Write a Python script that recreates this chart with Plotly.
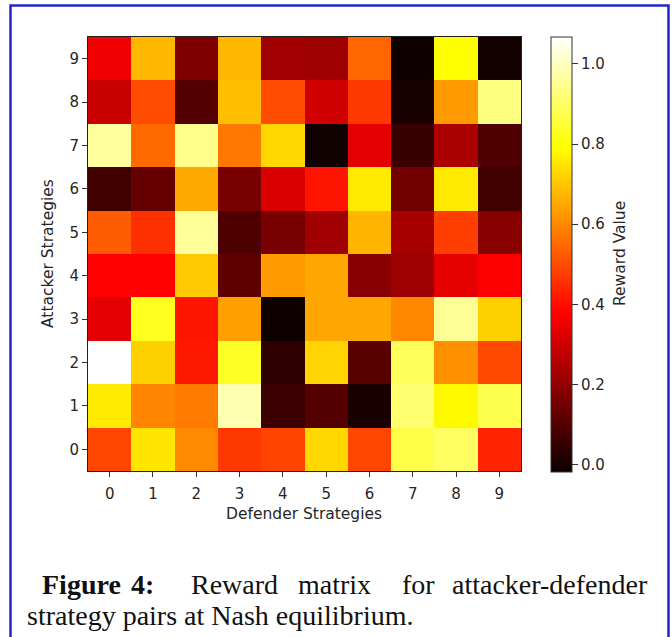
import plotly.graph_objects as go

W, H = 672, 637

# Strategy indices on both axes
defender = list(range(10))
attacker = list(range(10))
tick_labels = [str(i) for i in range(10)]

# Reward matrix: one row per attacker strategy (0 at bottom), columns are defender strategies
reward_a0 = [0.492, 0.751, 0.602, 0.469, 0.489, 0.728, 0.492, 0.870, 0.896, 0.437]
reward_a1 = [0.755, 0.592, 0.579, 0.981, 0.063, 0.104, 0.009, 0.911, 0.781, 0.878]
reward_a2 = [1.067, 0.715, 0.417, 0.835, 0.040, 0.722, 0.110, 0.889, 0.611, 0.495]
reward_a3 = [0.334, 0.826, 0.410, 0.637, -0.010, 0.647, 0.647, 0.598, 0.953, 0.715]
reward_a4 = [0.380, 0.380, 0.703, 0.120, 0.627, 0.647, 0.185, 0.218, 0.338, 0.373]
reward_a5 = [0.525, 0.456, 0.957, 0.092, 0.162, 0.224, 0.670, 0.237, 0.479, 0.185]
reward_a6 = [0.070, 0.127, 0.654, 0.162, 0.315, 0.410, 0.755, 0.152, 0.755, 0.070]
reward_a7 = [0.964, 0.549, 0.940, 0.572, 0.728, -0.006, 0.334, 0.056, 0.240, 0.095]
reward_a8 = [0.289, 0.502, 0.102, 0.686, 0.502, 0.302, 0.469, 0.007, 0.627, 0.929]
reward_a9 = [0.354, 0.675, 0.172, 0.675, 0.224, 0.218, 0.543, -0.010, 0.790, 0.000]

rewards = [reward_a0, reward_a1, reward_a2, reward_a3, reward_a4,
           reward_a5, reward_a6, reward_a7, reward_a8, reward_a9]

cbar_ticks = [0.0, 0.2, 0.4, 0.6, 0.8, 1.0]

# "hot" colour map: black -> red -> yellow -> white
hot = [
    [0.0, "rgb(10,0,0)"],
    [0.365079, "rgb(255,0,0)"],
    [0.746032, "rgb(255,255,0)"],
    [1.0, "rgb(255,255,255)"],
]

# pixel layout helpers
def px(x):
    return x / W

def py(y):
    return 1 - y / H

plot_l, plot_r, plot_t, plot_b = 88, 521, 37, 471
tick_font = dict(family="DejaVu Sans", size=15, color="#262626")

fig = go.Figure()
fig.add_trace(go.Heatmap(
    z=rewards,
    x=defender,
    y=attacker,
    colorscale=hot,
    zmin=-0.018,
    zmax=1.067,
    showscale=True,
    colorbar=dict(
        x=px(551), xanchor="left",
        y=py(37), yanchor="top",
        len=435, lenmode="pixels",
        thickness=21, thicknessmode="pixels",
        outlinewidth=1, outlinecolor="#333333",
        tickvals=cbar_ticks,
        tickformat=".1f",
        ticks="outside", ticklen=6, tickcolor="#333333",
        tickfont=tick_font,
        xpad=0, ypad=0,
    ),
))

axis_common = dict(
    tickmode="array",
    tickvals=list(range(10)),
    ticktext=tick_labels,
    ticks="outside",
    ticklen=5,
    tickcolor="#333333",
    tickfont=tick_font,
    showgrid=False,
    zeroline=False,
    showline=True,
    linecolor="#222222",
    linewidth=1,
    mirror=True,
    range=[-0.5, 9.5],
    fixedrange=True,
)

fig.update_layout(
    width=W, height=H,
    margin=dict(l=0, r=0, t=0, b=0),
    paper_bgcolor="white",
    plot_bgcolor="white",
    xaxis=dict(domain=[px(plot_l), px(plot_r)], ticklabelstandoff=4, **axis_common),
    yaxis=dict(domain=[py(plot_b), py(plot_t)], **axis_common),
    showlegend=False,
)

# Outer frame around the figure panel
fig.add_shape(type="rect", xref="paper", yref="paper",
              x0=px(10.5), x1=px(668.5), y0=-0.02, y1=py(5.5),
              line=dict(color="#2424cc", width=2.5), fillcolor="rgba(0,0,0,0)",
              layer="above")

label_font = dict(family="DejaVu Sans", size=15.5, color="#262626")

# Axis titles
fig.add_annotation(x=px(304), y=py(514), xref="paper", yref="paper",
                   text="Defender Strategies", showarrow=False,
                   font=label_font, xanchor="center", yanchor="middle")
fig.add_annotation(x=px(48), y=py(254), xref="paper", yref="paper",
                   text="Attacker Strategies", showarrow=False, textangle=-90,
                   font=label_font, xanchor="center", yanchor="middle")
fig.add_annotation(x=px(620), y=py(254), xref="paper", yref="paper",
                   text="Reward Value", showarrow=False, textangle=-90,
                   font=label_font, xanchor="center", yanchor="middle")

# Caption, first line justified word by word
cap_font = dict(family="Liberation Serif", size=28, color="#111111")
line1 = [
    ("<b>Figure</b>", 40, "left"),
    ("<b>4:</b>", 129, "left"),
    ("Reward", 189, "left"),
    ("matrix", 296, "left"),
    ("for", 400, "left"),
    ("attacker-defender", 650, "right"),
]
for word, xpos, anchor in line1:
    fig.add_annotation(x=px(xpos), y=py(584), xref="paper", yref="paper",
                       text=word, showarrow=False, font=cap_font,
                       xanchor=anchor, yanchor="middle")
fig.add_annotation(x=px(25), y=py(615), xref="paper", yref="paper",
                   text="strategy pairs at Nash equilibrium.", showarrow=False,
                   font=cap_font, xanchor="left", yanchor="middle")

fig.write_html("out.html")
